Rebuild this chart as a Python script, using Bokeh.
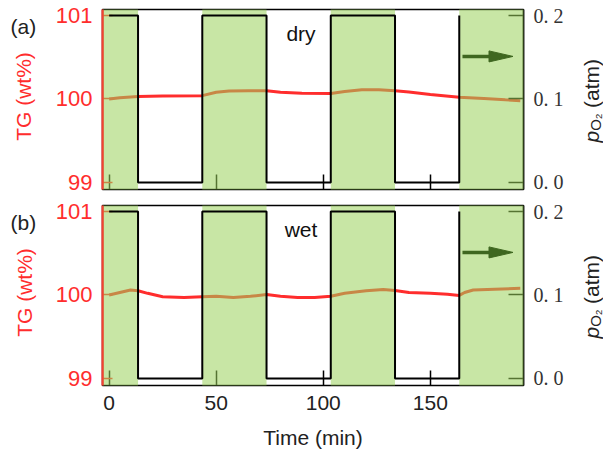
from math import pi

from bokeh.core.properties import value
from bokeh.embed import file_html
from bokeh.layouts import column, row
from bokeh.models import FixedTicker, Label, LinearAxis, Range1d, Span
from bokeh.plotting import figure
from bokeh.resources import INLINE

# ---- data -------------------------------------------------------------
# oxygen partial pressure program (atm): level holds from switch_t[i] to switch_t[i+1]
switch_t = [0, 13.5, 43.5, 73.5, 103.5, 133.5, 163.5]
po2_level = [0.2, 0.0, 0.2, 0.0, 0.2, 0.0, 0.2]

# mass change (wt%) under dry gas
t_dry = [0, 5, 13.5, 25, 43.5, 50, 56, 65, 73.5, 80, 90, 103.5, 110, 118, 126,
         133.5, 140, 150, 163.5, 175, 185, 192]
tg_dry = [100.00, 100.015, 100.03, 100.035, 100.04, 100.08, 100.095, 100.10,
          100.10, 100.08, 100.07, 100.067, 100.09, 100.11, 100.11, 100.10,
          100.085, 100.055, 100.02, 100.005, 99.99, 99.98]

# mass change (wt%) under wet gas
t_wet = [0, 5, 10, 13.5, 18, 25, 35, 43.5, 50, 58, 66, 73.5, 80, 88, 96, 103.5,
         110, 120, 128, 133.5, 140, 150, 158, 163.5, 166, 170, 180, 192]
tg_wet = [100.00, 100.03, 100.06, 100.05, 100.02, 99.98, 99.97, 99.98, 99.985,
          99.97, 99.985, 100.005, 99.985, 99.97, 99.97, 99.985, 100.02, 100.05,
          100.065, 100.055, 100.03, 100.02, 100.01, 99.995, 100.03, 100.06,
          100.07, 100.08]

x_ticks = [0, 50, 100, 150]
tg_ticks = [99, 100, 101]
po2_ticks = [0.0, 0.1, 0.2]
po2_tick_text = {0.0: "0. 0", 0.1: "0. 1", 0.2: "0. 2"}

panel_tags = ["(a)", "(b)"]
conditions = ["dry", "wet"]

# ---- styling ----------------------------------------------------------
RED = "#ff2d2d"
GREEN = "#9bd25b"
GREEN_ALPHA = 0.55
DARK_GREEN = "#3f6720"
TEXT = "#222222"
SANS = "Liberation Sans"
SERIF = "Liberation Serif"

X_START, X_END = -3.1, 193.5
TG_LO, TG_HI = 98.916, 101.072
# the oxygen axis is aligned so that 0.0 sits at 99 and 0.2 at 101
PO2_LO, PO2_HI = (TG_LO - 99) / 10, (TG_HI - 99) / 10

PAGE_H = 456
LEFT_W, RIGHT_W = 40, 25          # side strips carrying the titles
FRAME_W, FRAME_H = 421, 180
BORDER_L, BORDER_R = 62, 55
FRAME_TOPS = [9, 205]             # page y of each frame's top edge


def make_panel(t, tg, cond, bottom, top_border, bottom_border):
    p = figure(frame_width=FRAME_W, frame_height=FRAME_H,
               x_range=Range1d(X_START, X_END), y_range=Range1d(TG_LO, TG_HI),
               min_border_left=BORDER_L, min_border_right=BORDER_R,
               min_border_top=top_border, min_border_bottom=bottom_border,
               output_backend="svg", toolbar_location=None)
    p.grid.visible = False
    p.outline_line_color = "black"
    p.outline_line_width = 1.5
    p.background_fill_color = "white"
    p.border_fill_color = "white"

    # time axis
    xa = p.xaxis[0]
    xa.ticker = FixedTicker(ticks=x_ticks)
    xa.major_tick_in = 15
    xa.major_tick_out = 0
    xa.minor_tick_line_color = None
    xa.axis_line_color = "black"
    xa.major_tick_line_color = "black"
    xa.major_tick_line_width = 1.5
    if bottom:
        xa.major_label_text_font = SANS
        xa.major_label_text_font_size = "21px"
        xa.major_label_text_color = TEXT
        xa.major_label_standoff = 10
        xa.axis_label = "Time (min)"
        xa.axis_label_text_font = SANS
        xa.axis_label_text_font_style = "normal"
        xa.axis_label_text_font_size = "21px"
        xa.axis_label_text_color = TEXT
        xa.axis_label_standoff = 13
    else:
        # upper panel: ticks only
        xa.major_label_text_font_size = "1px"
        xa.major_label_text_color = None
        xa.major_label_standoff = 0

    # mass axis (left, red)
    ya = p.yaxis[0]
    ya.ticker = FixedTicker(ticks=tg_ticks)
    ya.major_tick_in = 10
    ya.major_tick_out = 0
    ya.minor_tick_line_color = None
    ya.axis_line_color = RED
    ya.axis_line_width = 2
    ya.major_tick_line_color = RED
    ya.major_tick_line_width = 1.5
    ya.major_label_text_color = RED
    ya.major_label_text_font = SANS
    ya.major_label_text_font_size = "22px"
    ya.major_label_standoff = 10

    # oxygen axis (right)
    p.extra_y_ranges = {"po2": Range1d(PO2_LO, PO2_HI)}
    ra = LinearAxis(y_range_name="po2", ticker=FixedTicker(ticks=po2_ticks),
                    major_label_overrides=po2_tick_text)
    ra.major_tick_in = 15
    ra.major_tick_out = 0
    ra.minor_tick_line_color = None
    ra.axis_line_color = "black"
    ra.axis_line_width = 1.5
    ra.major_tick_line_color = "black"
    ra.major_tick_line_width = 1.5
    ra.major_label_text_font = SERIF
    ra.major_label_text_font_size = "20px"
    ra.major_label_text_color = "#333333"
    ra.major_label_standoff = 10
    p.add_layout(ra, "right")

    # mass trace
    p.line(t, tg, line_color=RED, line_width=3)

    # shaded oxygen-on intervals, laid over the trace
    lefts, rights = [], []
    ends = switch_t[1:] + [X_END]
    for i, lvl in enumerate(po2_level):
        if lvl > 0:
            lefts.append(X_START if i == 0 else switch_t[i])
            rights.append(ends[i])
    p.quad(left=lefts, right=rights, bottom=TG_LO, top=TG_HI,
           fill_color=GREEN, fill_alpha=GREEN_ALPHA, line_color=None,
           level="overlay")

    # oxygen step program
    st, sv = [], []
    for i, lvl in enumerate(po2_level):
        st.append(switch_t[i])
        sv.append(lvl)
        if i + 1 < len(switch_t):
            st.append(switch_t[i + 1])
            sv.append(lvl)
    p.line(st, sv, y_range_name="po2", line_color="black", line_width=2,
           level="overlay")

    # red left edge kept visible over the shading
    p.add_layout(Span(location=X_START, dimension="height", line_color=RED,
                      line_width=2, level="overlay"))

    # arrow pointing to the right-hand axis
    px_x = FRAME_W / (X_END - X_START)
    px_y = FRAME_H / (TG_HI - TG_LO)
    a_x0, a_x1, a_y = 165.0, 188.6, 100.51
    head_len, head_half = 24 / px_x, 5.5 / px_y
    p.line([a_x0, a_x1 - head_len * 0.6], [a_y, a_y], line_color=DARK_GREEN,
           line_width=3.5, level="overlay")
    p.patch([a_x1 - head_len, a_x1, a_x1 - head_len],
            [a_y + head_half, a_y, a_y - head_half],
            fill_color=DARK_GREEN, line_color=DARK_GREEN, level="overlay")

    # condition inside the plot
    p.add_layout(Label(x=89.6, y=100.78, text=cond, text_font=SANS,
                       text_font_size="21px", text_color="#111111",
                       text_align="center", text_baseline="alphabetic"))
    return p


def strip(width):
    s = figure(width=width, height=PAGE_H, x_range=Range1d(0, width),
               y_range=Range1d(0, PAGE_H), min_border=0,
               x_axis_location=None, y_axis_location=None,
               output_backend="svg", toolbar_location=None)
    s.grid.visible = False
    s.outline_line_color = None
    s.background_fill_color = "white"
    s.border_fill_color = "white"
    return s


def page_y(y):
    # strips use page pixels measured from the top
    return PAGE_H - y


# left strip: panel tags and the mass-axis titles
left = strip(LEFT_W)
left.text(x=[10, 10], y=[page_y(ft + 17) for ft in FRAME_TOPS], text=panel_tags,
          text_font=value(SANS), text_font_size="21px", text_color=TEXT,
          text_align="left", text_baseline="alphabetic")
left.text(x=[23, 24], y=[page_y(ft + 87) for ft in FRAME_TOPS],
          text=["TG (wt%)"] * 2, angle=pi / 2, text_font=value(SANS),
          text_font_size="21px", text_color=RED, text_align="center",
          text_baseline="middle")

# right strip: p_O2 (atm), reading upward, built from three pieces
right = strip(RIGHT_W)
starts = [ft + 133 for ft in FRAME_TOPS]
right.text(x=[12.5] * 2, y=[page_y(s) for s in starts], text=["p"] * 2,
           angle=pi / 2, text_font=value(SANS), text_font_size="21px",
           text_font_style="italic", text_color=TEXT, text_align="left",
           text_baseline="middle")
right.text(x=[16.5] * 2, y=[page_y(s - 11.7) for s in starts],
           text=["O\u2082"] * 2, angle=pi / 2, text_font=value(SANS),
           text_font_size="15px", text_color=TEXT, text_align="left",
           text_baseline="middle")
right.text(x=[12.5] * 2, y=[page_y(s - 34.5) for s in starts],
           text=["(atm)"] * 2, angle=pi / 2, text_font=value(SANS),
           text_font_size="21px", text_color=TEXT, text_align="left",
           text_baseline="middle")

top = make_panel(t_dry, tg_dry, conditions[0], False, FRAME_TOPS[0], 8)
bot = make_panel(t_wet, tg_wet, conditions[1], True,
                 FRAME_TOPS[1] - (FRAME_TOPS[0] + FRAME_H + 8), 71)

layout = row(left, column(top, bot, spacing=0), right, spacing=0)
open("out.html", "w").write(file_html(layout, INLINE))
